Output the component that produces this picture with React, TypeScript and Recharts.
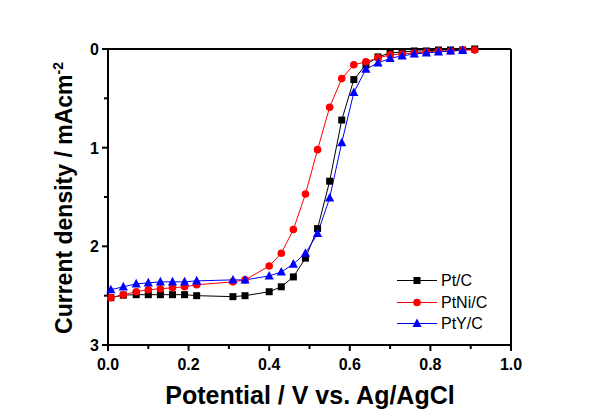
import React from "react";
import {
  LineChart,
  Line,
  XAxis,
  YAxis,
  ReferenceLine,
} from "recharts";

// potential (V vs. Ag/AgCl), shared by all three samples
const potential = [
  0.007, 0.038, 0.07, 0.1, 0.13, 0.16, 0.19, 0.22, 0.31, 0.34, 0.4, 0.43,
  0.46, 0.49, 0.52, 0.55, 0.58, 0.61, 0.64, 0.67, 0.7, 0.73, 0.76, 0.79,
  0.82, 0.85, 0.88, 0.91,
];

// current density (mA cm-2), plotted downward
const ptC = [
  2.52, 2.495, 2.49, 2.49, 2.49, 2.49, 2.49, 2.5, 2.51, 2.5, 2.46, 2.41,
  2.31, 2.12, 1.82, 1.34, 0.72, 0.31, 0.16, 0.08, 0.04, 0.03, 0.02, 0.02,
  0.01, 0.01, 0.01, 0.0,
];
const ptNiC = [
  2.52, 2.49, 2.46, 2.44, 2.43, 2.42, 2.41, 2.39, 2.36, 2.34, 2.2, 2.07,
  1.83, 1.47, 1.02, 0.59, 0.3, 0.16, 0.13, 0.09, 0.06, 0.05, 0.04, 0.03,
  0.02, 0.02, 0.01, 0.01,
];
const ptYC = [
  2.44, 2.41, 2.38, 2.37, 2.36, 2.36, 2.36, 2.35, 2.34, 2.34, 2.3, 2.26,
  2.18, 2.07, 1.87, 1.51, 0.95, 0.44, 0.205, 0.14, 0.095, 0.07, 0.05, 0.04,
  0.03, 0.02, 0.015, null,
];

const xTicks = [0, 0.1, 0.2, 0.3, 0.4, 0.5, 0.6, 0.7, 0.8, 0.9, 1.0];
const yTicks = [0, 0.5, 1, 1.5, 2, 2.5, 3];

const data = potential.map((p, i) => ({
  p,
  ptC: ptC[i],
  ptNiC: ptNiC[i],
  ptYC: ptYC[i],
}));

const FONT = "Arial, 'Liberation Sans', sans-serif";

const Square = (props: any) => {
  const { cx, cy, stroke } = props;
  if (cx == null || cy == null) return null;
  return <rect x={cx - 3.5} y={cy - 3.5} width={7} height={7} fill={stroke} />;
};

const Circle = (props: any) => {
  const { cx, cy, stroke } = props;
  if (cx == null || cy == null) return null;
  return <circle cx={cx} cy={cy} r={3.8} fill={stroke} />;
};

const Triangle = (props: any) => {
  const { cx, cy, stroke } = props;
  if (cx == null || cy == null) return null;
  return (
    <polygon
      points={`${cx},${cy - 5} ${cx - 4.6},${cy + 3.6} ${cx + 4.6},${cy + 3.6}`}
      fill={stroke}
    />
  );
};

const XTick = (props: any) => {
  const { x, y, payload } = props;
  const v = Math.round(payload.value * 10);
  const major = v % 2 === 0;
  return (
    <g>
      <line x1={x} x2={x} y1={y} y2={y + (major ? 6 : 4)} stroke="#000" strokeWidth={2} />
      {major && (
        <text x={x} y={y + 25} textAnchor="middle" fontSize={16} fontWeight="bold" fontFamily={FONT} fill="#000">
          {payload.value.toFixed(1)}
        </text>
      )}
    </g>
  );
};

const YTick = (props: any) => {
  const { x, y, payload } = props;
  const major = Number.isInteger(payload.value);
  return (
    <g>
      <line x1={x} x2={x - (major ? 6 : 4)} y1={y} y2={y} stroke="#000" strokeWidth={2} />
      {major && (
        <text x={x - 9} y={y + 6} textAnchor="end" fontSize={16} fontWeight="bold" fontFamily={FONT} fill="#000">
          {payload.value}
        </text>
      )}
    </g>
  );
};

const YTitle = () => (
  <text
    transform="translate(72,198) rotate(-90)"
    textAnchor="middle"
    fontSize={23}
    fontWeight="bold"
    fontFamily={FONT}
    fill="#000"
  >
    Current density / mAcm
    <tspan fontSize={14} dy={-9}>-2</tspan>
  </text>
);

const XTitle = () => (
  <text x={310} y={404} textAnchor="middle" fontSize={25} fontWeight="bold" fontFamily={FONT} fill="#000">
    Potential / V vs. Ag/AgCl
  </text>
);

const series = [
  { key: "ptC", name: "Pt/C", color: "#000000", Marker: Square },
  { key: "ptNiC", name: "PtNi/C", color: "#ff0000", Marker: Circle },
  { key: "ptYC", name: "PtY/C", color: "#0000ff", Marker: Triangle },
];

const LegendBox = () => (
  <div
    style={{
      position: "absolute",
      left: 397,
      top: 270,
      fontFamily: FONT,
      fontSize: 16,
      lineHeight: "21.5px",
    }}
  >
    {series.map((s) => (
      <div key={s.key} style={{ display: "flex", alignItems: "center", height: 21.5 }}>
        <svg width={44} height={21}>
          <line x1={0} x2={40} y1={10.5} y2={10.5} stroke={s.color} strokeWidth={1} />
          <s.Marker cx={20} cy={10.5} stroke={s.color} />
        </svg>
        <span style={{ color: "#000" }}>{s.name}</span>
      </div>
    ))}
  </div>
);

export default function App() {
  return (
    <div style={{ position: "absolute", left: 0, top: 0, width: 598, height: 420, background: "#fff" }}>
      <LineChart
        width={598}
        height={420}
        data={data}
        margin={{ top: 49, right: 87, left: 58, bottom: 25 }}
      >
        <XAxis
          dataKey="p"
          type="number"
          domain={[0, 1]}
          ticks={xTicks}
          interval={0}
          tickSize={0}
          tickMargin={0}
          tickLine={false}
          tick={<XTick />}
          axisLine={{ stroke: "#000", strokeWidth: 2 }}
          height={50}
          label={<XTitle />}
        />
        <YAxis
          type="number"
          domain={[0, 3]}
          reversed
          ticks={yTicks}
          interval={0}
          tickSize={0}
          tickMargin={0}
          tickLine={false}
          tick={<YTick />}
          axisLine={{ stroke: "#000", strokeWidth: 2 }}
          width={50}
          label={<YTitle />}
        />
        <ReferenceLine y={0} stroke="#000" strokeWidth={2} ifOverflow="visible" />
        <ReferenceLine x={1} stroke="#000" strokeWidth={2} ifOverflow="visible" />
        {series.map((s) => (
          <Line
            key={s.key}
            dataKey={s.key}
            name={s.name}
            type="linear"
            stroke={s.color}
            strokeWidth={1}
            dot={<s.Marker />}
            activeDot={false}
            connectNulls={false}
            isAnimationActive={false}
          />
        ))}
      </LineChart>
      <LegendBox />
    </div>
  );
}
